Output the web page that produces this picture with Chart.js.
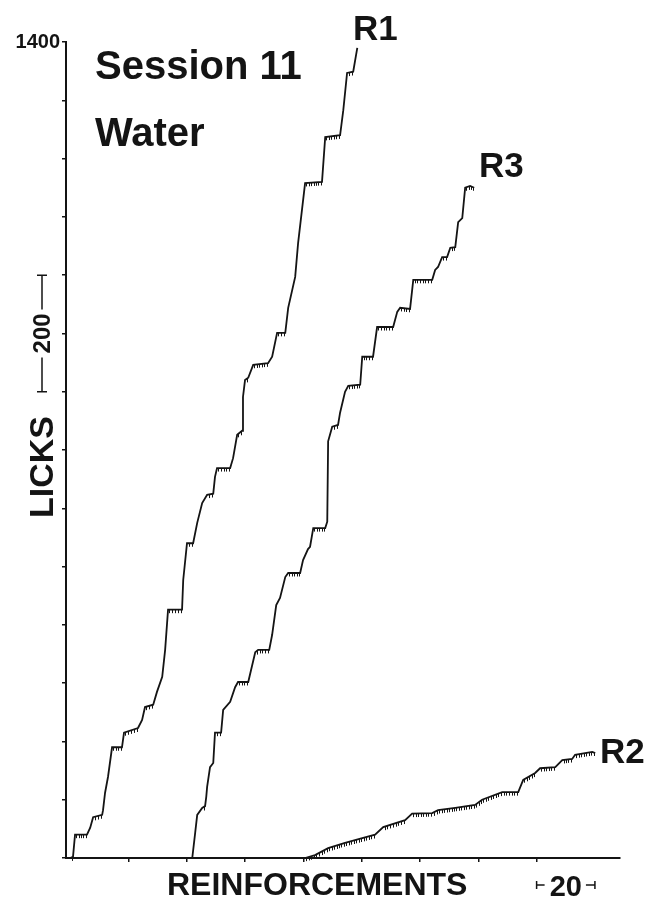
<!DOCTYPE html>
<html>
<head>
<meta charset="utf-8">
<script src="https://cdn.jsdelivr.net/npm/chart.js@4.4.1/dist/chart.umd.min.js"></script>
<style>
  html, body { margin: 0; padding: 0; background: #fff; }
  #wrap { width: 649px; height: 899px; }
</style>
</head>
<body>
<div id="wrap"><canvas id="rec" width="649" height="899"></canvas></div>
<script>
// Cumulative lick records, Session 11 (water): vertices of each pen trace.
// x = reinforcements, y = cumulative licks
const r1Reinf = [0, 1.0, 1.7, 5.8, 6.9, 7.9, 11.0, 11.3, 12.0, 13.0, 14.4, 17.8, 18.5, 23.3, 24.7, 25.7, 28.5, 29.8, 31.6, 32.6,
                 33.6, 38.4, 38.8, 40.1, 42.2, 43.6, 45.3, 47.0, 49.1, 49.7, 50.4, 54.9, 55.9, 57.3, 59.0, 59.3, 60.0, 61.1, 62.8, 67.9,
                 69.3, 71.0, 73.8, 74.8, 77.2, 78.2, 80.6, 86.4, 87.5, 92.6, 93.7, 95.0, 97.1, 98.5];
const r1Licks = [0, 2, 40, 40, 52, 70, 74, 82, 112, 139, 190, 190, 215, 223, 237, 259, 263, 285, 311, 357,
                 426, 426, 477, 540, 540, 575, 609, 623, 625, 654, 669, 669, 686, 726, 733, 791, 820, 824, 846, 849,
                 860, 901, 901, 944, 997, 1055, 1158, 1160, 1237, 1240, 1283, 1347, 1349, 1390];

const r3Reinf = [41.9, 42.9, 43.6, 45.3, 46.3, 46.7, 47.0, 48.0, 49.1, 49.7, 51.8, 52.5, 54.9, 56.6, 57.6, 61.1, 63.5, 64.5, 68.3, 69.3,
                 70.7, 72.0, 73.8, 74.8, 78.9, 79.9, 81.6, 82.3, 83.4, 87.5, 88.2, 88.5, 89.9, 91.9, 92.6, 94.3, 95.4, 99.5, 100.2, 103.9,
                 105.3, 110.8, 112.2, 113.2, 116.6, 117.7, 124.2, 125.2, 126.2, 127.6, 129.3, 130.4, 132.1, 133.1, 134.5, 135.5, 137.2, 138.6];
const r3Licks = [0, 43, 74, 86, 89, 105, 122, 156, 163, 215, 215, 254, 268, 293, 302, 302, 353, 357, 357, 383,
                 434, 446, 482, 489, 489, 511, 530, 534, 566, 566, 577, 715, 740, 743, 764, 800, 810, 812, 860, 860,
                 911, 911, 937, 944, 942, 992, 992, 1009, 1014, 1031, 1031, 1047, 1048, 1091, 1098, 1150, 1153, 1150];

const r2Reinf = [80.6, 84.0, 88.5, 94.3, 100.2, 104.6, 107.4, 114.9, 117.3, 124.2, 126.2, 132.1, 138.9, 141.3, 148.2, 153.7,
                 155.4, 159.5, 161.2, 166.4, 168.8, 172.2, 173.2, 179.1, 180.1];
const r2Licks = [0, 5, 17, 26, 34, 40, 53, 65, 76, 77, 82, 86, 91, 100, 113, 113,
                 134, 146, 154, 156, 168, 170, 177, 182, 180];

// Axis ranges, tick spacing and labelled ticks
const reinfRange = [-1.4, 188.6];
const licksRange = [0, 1400];
const reinfStep = 20;
const licksStep = 100;
const labelledLickTicks = [1400];

// Calibration bars: 200 licks and 20 reinforcements
const lickBar = [800, 1000];
const reinfBar = [160, 180];

const FONT = '"Liberation Sans", Arial, Helvetica, sans-serif';
const INK = '#141414';

function toPoints(xs, ys) { return xs.map((x, i) => ({ x: x, y: ys[i] })); }

const recordPlugin = {
  id: 'recordPlugin',
  afterDatasetsDraw(chart) {
    // comb of pen marks hanging under the flatter parts of each trace
    const ctx = chart.ctx;
    ctx.save();
    ctx.strokeStyle = INK;
    ctx.lineWidth = 1;
    chart.data.datasets.forEach((ds, i) => {
      const pts = chart.getDatasetMeta(i).data;
      for (let k = 0; k < pts.length - 1; k++) {
        const p = pts[k], q = pts[k + 1];
        const dx = q.x - p.x, dy = q.y - p.y;
        if (dx <= 0 || Math.abs(dy) > dx * 0.9) continue;
        const n = Math.max(1, Math.round(dx / 2.6));
        ctx.beginPath();
        for (let s = 0; s < n; s++) {
          const t = (s + 0.5) / n;
          const x = Math.round(p.x + dx * t) + 0.5;
          const y = p.y + dy * t;
          ctx.moveTo(x, y);
          ctx.lineTo(x, y + 3.5);
        }
        ctx.stroke();
      }
    });
    ctx.restore();
  },
  afterDraw(chart) {
    const ctx = chart.ctx;
    const xs = chart.scales.x, ys = chart.scales.y;
    ctx.save();
    ctx.fillStyle = INK;
    ctx.strokeStyle = INK;
    ctx.textBaseline = 'alphabetic';
    ctx.textAlign = 'left';

    ctx.font = 'bold 40px ' + FONT;
    ctx.fillText('Session 11', 95, 79);
    ctx.fillText('Water', 95, 146);

    ctx.font = 'bold 35px ' + FONT;
    ctx.fillText('R1', 353, 40);
    ctx.fillText('R3', 479, 177);
    ctx.fillText('R2', 600, 763);

    // axis names
    ctx.font = 'bold 32px ' + FONT;
    ctx.fillText('REINFORCEMENTS', 167, 895);
    ctx.save();
    ctx.translate(53, 467);
    ctx.rotate(-Math.PI / 2);
    ctx.textAlign = 'center';
    ctx.font = 'bold 34px ' + FONT;
    ctx.fillText('LICKS', 0, 0);
    ctx.restore();

    // 200-lick calibration bar beside the y axis
    const yTop = ys.getPixelForValue(lickBar[1]);
    const yBot = ys.getPixelForValue(lickBar[0]);
    const yMid = (yTop + yBot) / 2;
    const bx = 42;
    ctx.lineWidth = 1.5;
    ctx.beginPath();
    ctx.moveTo(bx - 5, yTop); ctx.lineTo(bx + 5, yTop);
    ctx.moveTo(bx, yTop); ctx.lineTo(bx, yMid - 24);
    ctx.moveTo(bx, yMid + 24); ctx.lineTo(bx, yBot);
    ctx.moveTo(bx - 5, yBot); ctx.lineTo(bx + 5, yBot);
    ctx.stroke();
    ctx.save();
    ctx.translate(bx + 8, yMid);
    ctx.rotate(-Math.PI / 2);
    ctx.textAlign = 'center';
    ctx.font = 'bold 24px ' + FONT;
    ctx.fillText('200', 0, 0);
    ctx.restore();

    // 20-reinforcement calibration bar under the x axis
    const xl = xs.getPixelForValue(reinfBar[0]);
    const xr = xs.getPixelForValue(reinfBar[1]);
    const by = 885;
    ctx.lineWidth = 1.5;
    ctx.beginPath();
    ctx.moveTo(xl, by - 4); ctx.lineTo(xl, by + 4);
    ctx.moveTo(xl, by); ctx.lineTo(xl + 8, by);
    ctx.moveTo(xr - 9, by); ctx.lineTo(xr, by);
    ctx.moveTo(xr, by - 4); ctx.lineTo(xr, by + 4);
    ctx.stroke();
    ctx.font = 'bold 29px ' + FONT;
    ctx.textAlign = 'center';
    ctx.fillText(String(reinfBar[1] - reinfBar[0]), (xl + xr) / 2, 896);
    ctx.restore();
  }
};

function lineSet(label, xs, ys) {
  return {
    label: label,
    data: toPoints(xs, ys),
    borderColor: INK,
    borderWidth: 1.8,
    pointRadius: 0,
    tension: 0,
    fill: false
  };
}

new Chart(document.getElementById('rec'), {
  type: 'line',
  data: {
    datasets: [
      lineSet('R1', r1Reinf, r1Licks),
      lineSet('R3', r3Reinf, r3Licks),
      lineSet('R2', r2Reinf, r2Licks)
    ]
  },
  options: {
    responsive: false,
    animation: false,
    devicePixelRatio: 1,
    layout: { padding: { left: 0, top: 42, right: 29, bottom: 0 } },
    plugins: { legend: { display: false }, tooltip: { enabled: false } },
    scales: {
      x: {
        type: 'linear',
        min: reinfRange[0],
        max: reinfRange[1],
        ticks: { stepSize: reinfStep, display: false },
        afterBuildTicks(scale) {
          scale.ticks = scale.ticks.filter(t => Math.abs(t.value / reinfStep - Math.round(t.value / reinfStep)) < 1e-6);
        },
        afterFit(scale) { scale.height = 41; },
        grid: { drawOnChartArea: false, drawTicks: true, tickLength: 4, color: INK, lineWidth: 1.5 },
        border: { display: true, color: INK, width: 2 }
      },
      y: {
        type: 'linear',
        min: licksRange[0],
        max: licksRange[1],
        ticks: {
          stepSize: licksStep,
          padding: 2,
          color: INK,
          font: { family: FONT, size: 20, weight: 'bold' },
          callback: v => labelledLickTicks.includes(v) ? String(v) : ''
        },
        afterFit(scale) { scale.width = 66; },
        grid: { drawOnChartArea: false, drawTicks: true, tickLength: 4, color: INK, lineWidth: 1.5 },
        border: { display: true, color: INK, width: 2 }
      }
    }
  },
  plugins: [recordPlugin]
});
</script>
</body>
</html>
